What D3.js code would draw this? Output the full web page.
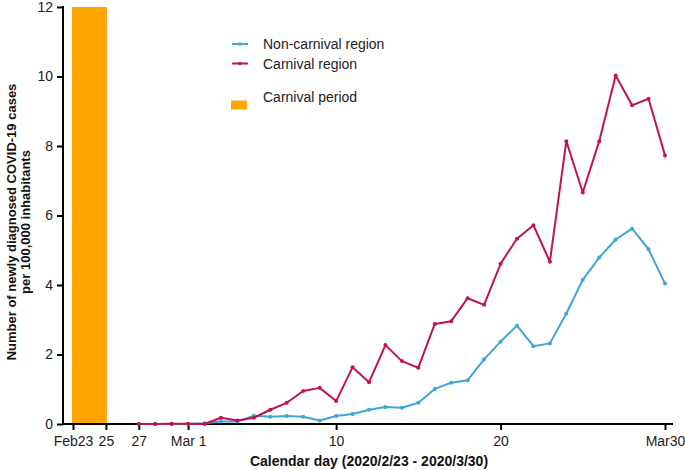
<!DOCTYPE html>
<html>
<head>
<meta charset="utf-8">
<script src="https://cdn.jsdelivr.net/npm/d3@7"></script>
<style>
  html, body { margin: 0; padding: 0; background: #fff; }
  svg { display: block; font-family: "Liberation Sans", Arial, sans-serif; }
</style>
</head>
<body>
<svg id="chart" width="685" height="470"></svg>
<script>
// ---- Data ----
const dates = ["2020-02-27","2020-02-28","2020-02-29","2020-03-01","2020-03-02","2020-03-03","2020-03-04","2020-03-05","2020-03-06","2020-03-07","2020-03-08","2020-03-09","2020-03-10","2020-03-11","2020-03-12","2020-03-13","2020-03-14","2020-03-15","2020-03-16","2020-03-17","2020-03-18","2020-03-19","2020-03-20","2020-03-21","2020-03-22","2020-03-23","2020-03-24","2020-03-25","2020-03-26","2020-03-27","2020-03-28","2020-03-29","2020-03-30"];
const nonCarnival = [0,0,0,0,0.02,0.07,0.07,0.24,0.21,0.23,0.21,0.10,0.23,0.29,0.41,0.49,0.47,0.61,1.01,1.19,1.26,1.86,2.37,2.83,2.24,2.32,3.18,4.15,4.79,5.31,5.62,5.03,4.04];
const carnival = [0,0,0.01,0.01,0,0.18,0.10,0.18,0.41,0.61,0.95,1.04,0.66,1.63,1.20,2.27,1.81,1.62,2.88,2.96,3.62,3.43,4.61,5.33,5.72,4.67,8.14,6.66,8.14,10.03,9.17,9.36,7.73];
const carnivalPeriod = ["2020-02-23","2020-02-25"];
const xTickDates = ["2020-02-23","2020-02-25","2020-02-27","2020-03-01","2020-03-10","2020-03-20","2020-03-30"];
const xTickLabels = ["Feb23","25","27","Mar 1","10","20","Mar30"];
const yTicks = [0,2,4,6,8,10,12];
const seriesNames = ["Non-carnival region","Carnival region"];
const periodName = "Carnival period";

// ---- Setup ----
const parse = d3.utcParse("%Y-%m-%d");
const svg = d3.select("#chart");
const colors = {blue: "#3ea6d3", red: "#c0144c", orange: "#ffa500"};
const FONT = "'Liberation Sans', Arial, sans-serif";

const x = d3.scaleUtc()
  .domain([parse("2020-02-23"), parse("2020-03-30")])
  .range([73, 665]);
const y = d3.scaleLinear().domain([0, 12]).range([424, 7]);

// Carnival period bar
const p0 = parse(carnivalPeriod[0]), p1 = parse(carnivalPeriod[1]);
svg.append("rect")
  .attr("x", x(p0) - 1)
  .attr("y", y(12))
  .attr("width", x(p1) - x(p0) + 2)
  .attr("height", y(0) - y(12))
  .attr("fill", colors.orange);

// Axes
const xAxis = d3.axisBottom(x)
  .tickValues(xTickDates.map(parse))
  .tickFormat((d, i) => xTickLabels[i])
  .tickSize(6).tickSizeOuter(0);
const gx = svg.append("g").attr("transform", `translate(0,${y(0)})`).call(xAxis);
gx.select(".domain").attr("d", `M63,0H673`).attr("stroke", "#000").attr("stroke-width", 2);
gx.selectAll(".tick line").attr("stroke", "#000").attr("stroke-width", 2);
gx.selectAll(".tick text").attr("font-size", 14).attr("fill", "#222").attr("dy", "0.93em")
  .style("font-family", FONT);

const yAxis = d3.axisLeft(y).tickValues(yTicks).tickFormat(d3.format("d")).tickSize(6).tickSizeOuter(0);
const gy = svg.append("g").attr("transform", `translate(63,0)`).call(yAxis);
gy.select(".domain").attr("d", `M0,${y(12) - 1}V${y(0) + 1}`).attr("stroke", "#000").attr("stroke-width", 2);
gy.selectAll(".tick line").attr("stroke", "#000").attr("stroke-width", 2);
gy.selectAll(".tick text").attr("font-size", 14).attr("fill", "#222").attr("x", -10)
  .style("font-family", FONT);

// Lines
const pts = arr => arr.map((v, i) => ({d: parse(dates[i]), v}));
const line = d3.line().x(d => x(d.d)).y(d => y(d.v));
[[nonCarnival, colors.blue], [carnival, colors.red]].forEach(([arr, c]) => {
  const data = pts(arr);
  svg.append("path").datum(data).attr("d", line)
    .attr("fill", "none").attr("stroke", c).attr("stroke-width", 2).attr("stroke-linejoin", "round");
  svg.append("g").selectAll("circle").data(data).join("circle")
    .attr("cx", d => x(d.d)).attr("cy", d => y(d.v)).attr("r", 2).attr("fill", c);
});

// Legend
const leg = svg.append("g").style("font-family", FONT);
[[seriesNames[0], colors.blue, 44], [seriesNames[1], colors.red, 63.5]].forEach(([t, c, yy]) => {
  leg.append("line").attr("x1", 232).attr("x2", 248).attr("y1", yy).attr("y2", yy)
    .attr("stroke", c).attr("stroke-width", 2);
  leg.append("circle").attr("cx", 240).attr("cy", yy).attr("r", 1.8).attr("fill", c);
  leg.append("text").attr("x", 263).attr("y", yy + 5).attr("font-size", 14).attr("fill", "#222").text(t);
});
leg.append("rect").attr("x", 231).attr("y", 100.5).attr("width", 16).attr("height", 9).attr("fill", colors.orange);
leg.append("text").attr("x", 263).attr("y", 102).attr("font-size", 14).attr("fill", "#222").text(periodName);

// Axis titles
svg.append("text").attr("x", 369).attr("y", 465.5).attr("text-anchor", "middle")
  .style("font-family", FONT)
  .attr("font-size", 14).attr("font-weight", "bold").attr("fill", "#111")
  .text("Calendar day (2020/2/23 - 2020/3/30)");
const yt = svg.append("text").attr("transform", "translate(0,222) rotate(-90)")
  .style("font-family", FONT)
  .attr("text-anchor", "middle").attr("font-size", 13).attr("font-weight", "bold").attr("fill", "#111");
yt.append("tspan").attr("x", 0).attr("y", 15.5).text("Number of newly diagnosed COVID-19 cases");
yt.append("tspan").attr("x", 0).attr("y", 29.5).text("per 100,000 inhabitants");
</script>
</body>
</html>
